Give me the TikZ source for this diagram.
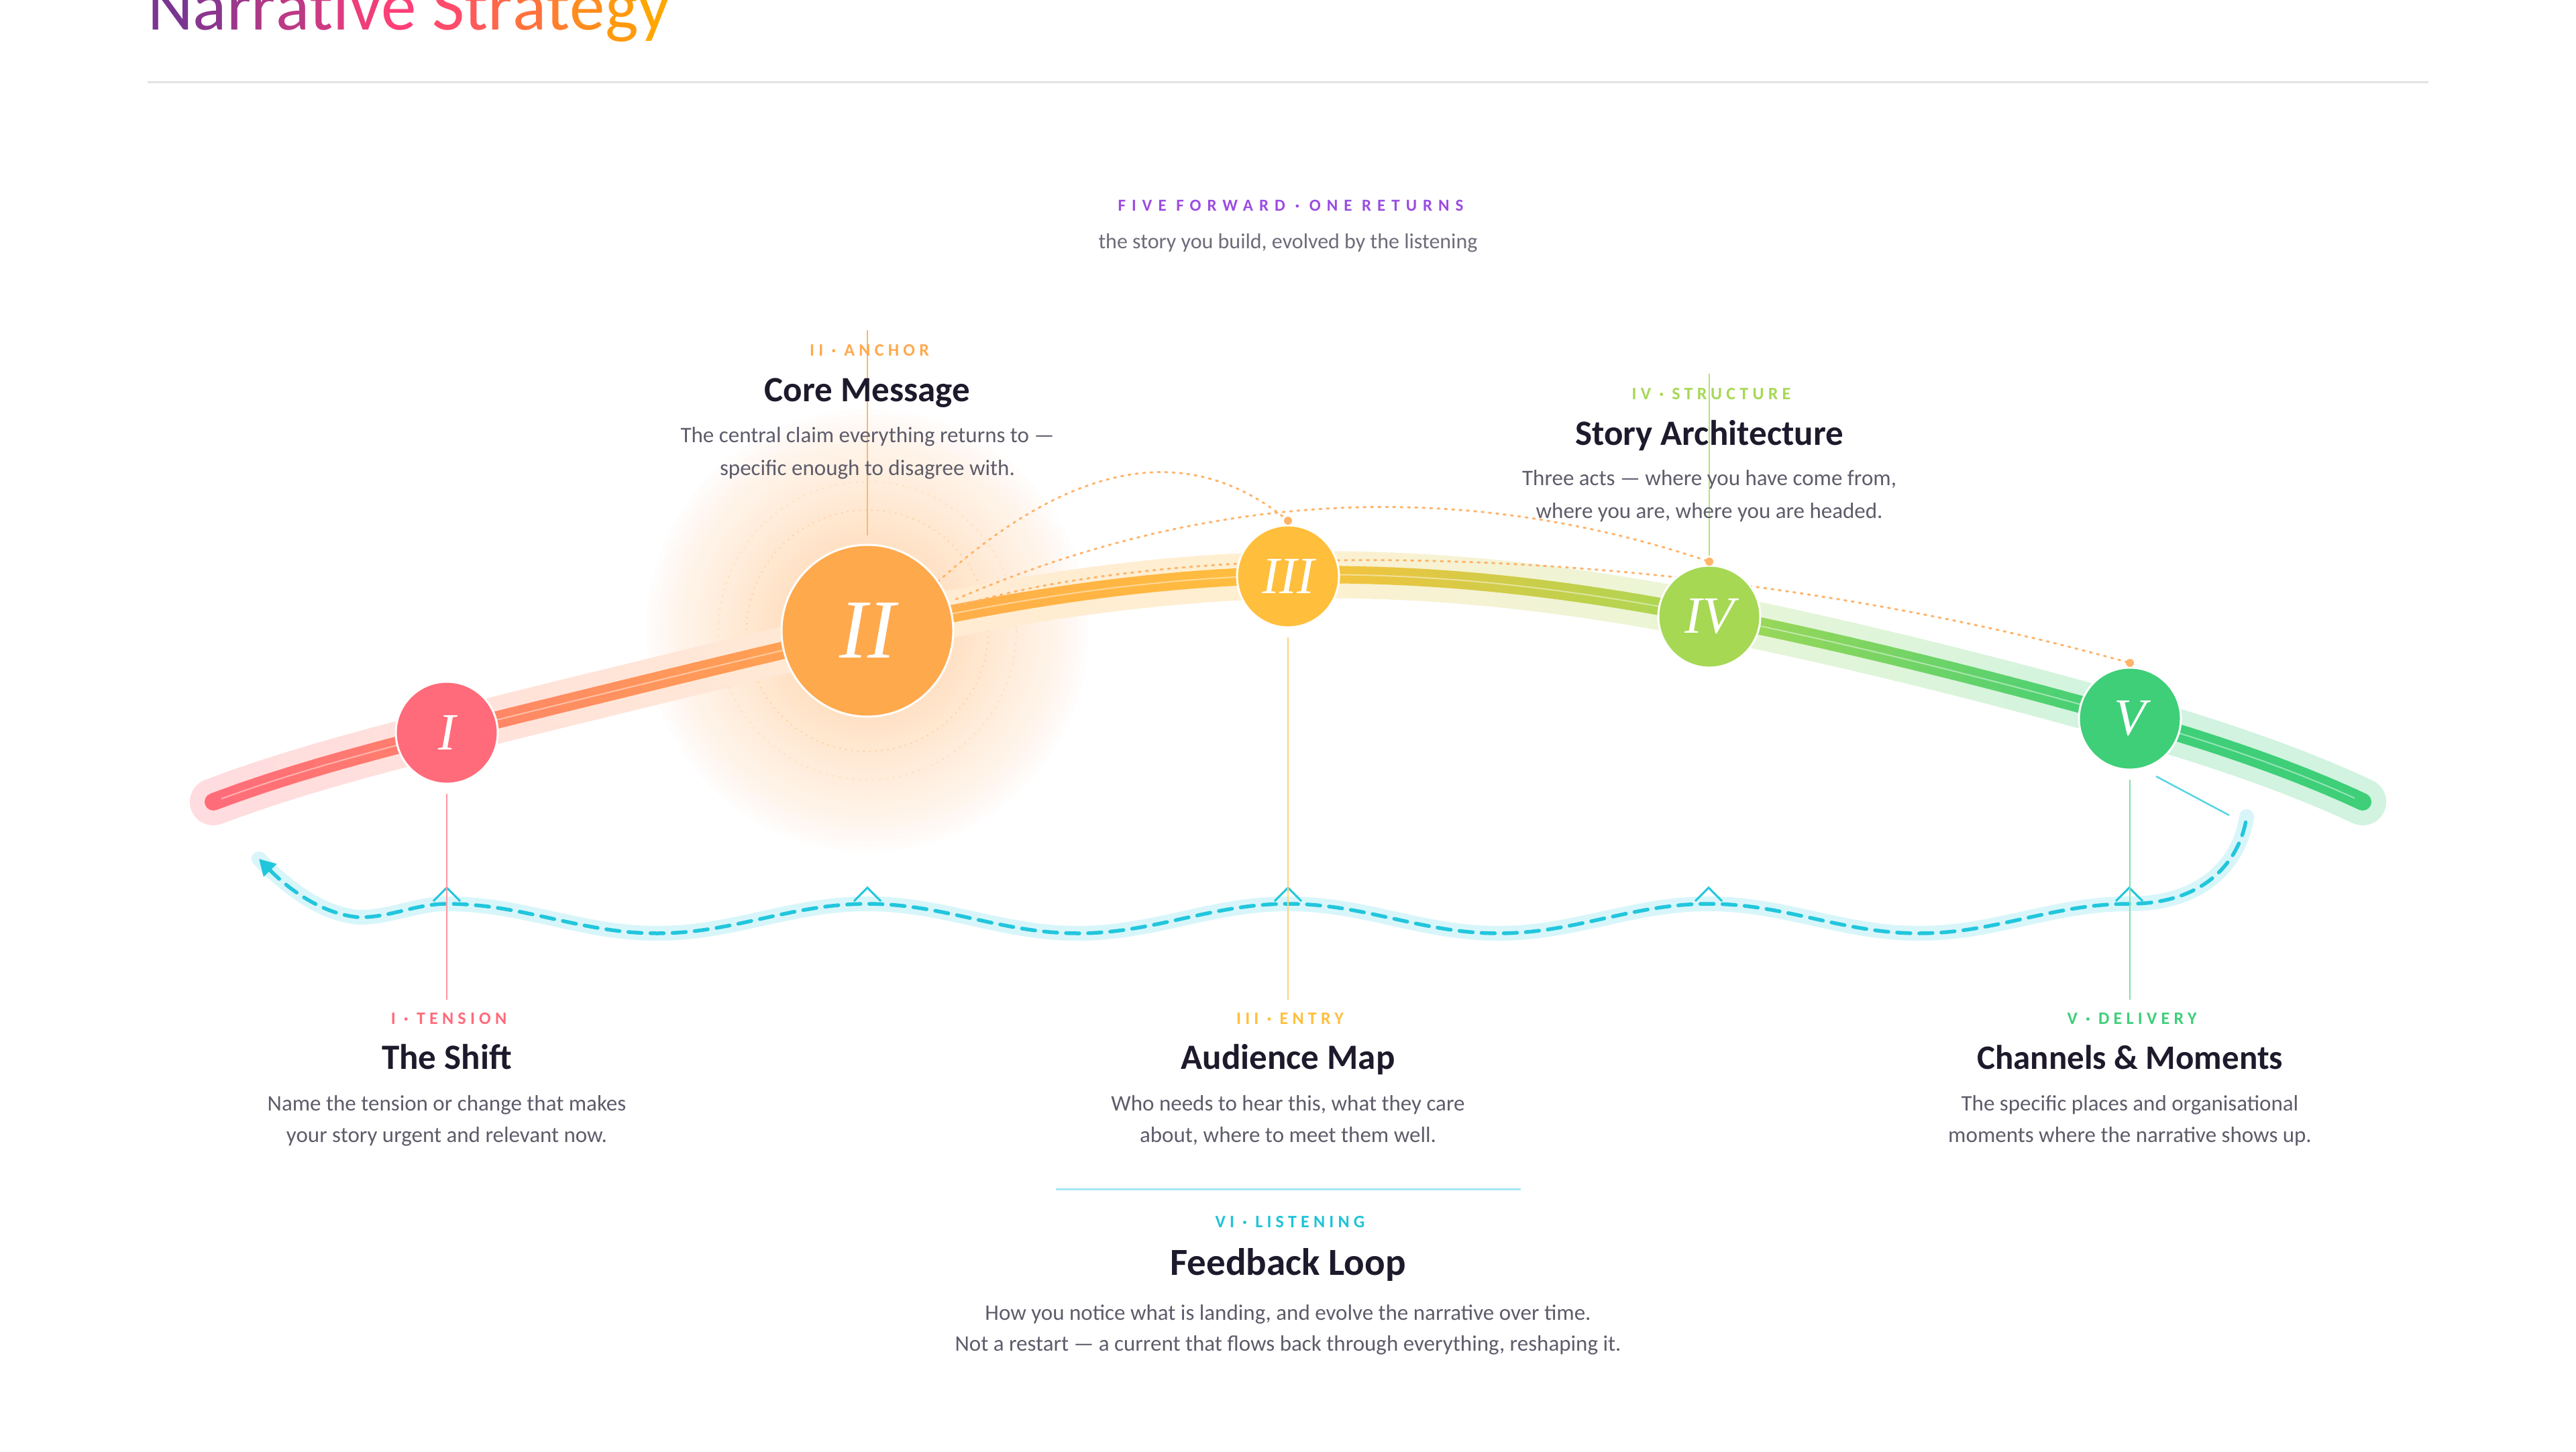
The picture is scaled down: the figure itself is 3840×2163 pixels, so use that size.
\documentclass[tikz,border=0pt]{standalone}
\usepackage{fontspec}
\setmainfont{Carlito}
\newfontfamily\numfont{Liberation Serif}
\newfontfamily\trackfont[LetterSpace=24]{Carlito}
\newfontfamily\headtrackfont[LetterSpace=36]{Carlito}
\usetikzlibrary{arrows.meta}
\definecolor{cI}{HTML}{FF6B7A}
\definecolor{cII}{HTML}{FFA94D}
\definecolor{cIII}{HTML}{FFBF3C}
\definecolor{cIV}{HTML}{A6D854}
\definecolor{cV}{HTML}{3ECF78}
\definecolor{cVI}{HTML}{1EC3D9}
\definecolor{ink}{HTML}{1E1A2C}
\definecolor{body}{HTML}{5E5C6A}
\definecolor{hdr}{HTML}{9A4CE0}
\definecolor{rulec}{HTML}{E2E2E6}
\definecolor{wavec}{HTML}{22C6DC}
\definecolor{waveh}{HTML}{D8F6FA}
\definecolor{arcc}{HTML}{FFB46A}
\definecolor{glowc}{HTML}{FFC585}
\definecolor{tp}{HTML}{7A3591}
\definecolor{tm}{HTML}{FF3F78}
\definecolor{to}{HTML}{FFA600}
\tikzset{
  lab/.style={font=\trackfont\bfseries\fontsize{26}{30}\selectfont, anchor=base, inner sep=0},
  ttl/.style={font=\bfseries\fontsize{53}{60}\selectfont, text=ink, anchor=base, inner sep=0},
  dsc/.style={font=\fontsize{33}{38}\selectfont, text=body, anchor=base, inner sep=0},
  stepc/.style={circle, draw=white, line width=3pt, inner sep=0, minimum size=152pt, text=white,
    font=\numfont\itshape\fontsize{78}{80}\selectfont},
  leader/.style={line width=2.5pt},
  arcd/.style={draw=arcc, line width=3pt, line cap=round, dash pattern=on 3pt off 8pt},
  chev/.style={draw=wavec, line width=3pt, line join=miter},
}
\begin{document}
\begin{tikzpicture}[x=1pt,y=-1pt,
  declare function={tt(\x)=(\x-1920)/1602; qq(\x)=tt(\x)*tt(\x);
    cy(\x)=857+523*qq(\x)-370.8*qq(\x)*qq(\x)+185.8*qq(\x)*qq(\x)*qq(\x)-35*tt(\x)*(1-qq(\x));}]
\useasboundingbox (0,0) rectangle (3840,2163);
\clip (0,0) rectangle (3840,2163);
\fill[white] (0,0) rectangle (3840,2163);

% title
\node[anchor=base west, inner sep=0, font=\fontsize{105}{118}\selectfont] (title) at (220,44)
 {\textcolor{tp}{N}\textcolor{tp!88!tm}{a}\textcolor{tp!75!tm}{r}\textcolor{tp!62!tm}{r}\textcolor{tp!50!tm}{a}\textcolor{tp!38!tm}{t}\textcolor{tp!25!tm}{i}\textcolor{tp!12!tm}{v}\textcolor{tm}{e} \textcolor{tm!88!to}{S}\textcolor{tm!75!to}{t}\textcolor{tm!62!to}{r}\textcolor{tm!50!to}{a}\textcolor{tm!38!to}{t}\textcolor{tm!25!to}{e}\textcolor{tm!12!to}{g}\textcolor{to}{y}};
\draw[rulec, line width=3pt] (220,122) -- (3620,122);

% header
\node[font=\headtrackfont\bfseries\fontsize{25}{30}\selectfont, text=hdr, anchor=base, inner sep=0] (hdr) at (1924,314) {FIVE FORWARD · ONE RETURNS};
\node[font=\fontsize{32}{38}\selectfont, text=body!90!white, anchor=base, inner sep=0] (sub) at (1920,370) {the story you build, evolved by the listening};

% glow around II
\coordinate (cII) at (1293,940);
\foreach \r in {330,322,...,130}{
  \fill[glowc, fill opacity=0.018] (cII) circle (\r);
}
\draw[arcd, line width=2.5pt, dash pattern=on 0pt off 9pt, opacity=.55] (cII) circle (180);
\draw[arcd, line width=2.5pt, dash pattern=on 0pt off 10pt, opacity=.35] (cII) circle (222);

% main path: halo
\foreach \xa/\xb/\ca/\cb in {318/1293/cI/cII,1293/1920/cII/cIII,1920/2547/cIII/cIV,2547/3174/cIV/cV,3174/3522/cV/cV}{
  \foreach \i in {0,...,23}{
    \pgfmathsetmacro\xs{\xa+(\xb-\xa)/24*\i}
    \pgfmathsetmacro\xe{\xa+(\xb-\xa)/24*(\i+1)}
    \pgfmathsetmacro\pc{100-100*(\i+0.5)/24}
    \draw[line width=70pt, line cap=round, color=\ca!\pc!\cb!24!white] (\xs,{cy(\xs)}) -- (\xe,{cy(\xe)});
  }}
% main path: core
\foreach \xa/\xb/\ca/\cb in {318/1293/cI/cII,1293/1920/cII/cIII,1920/2547/cIII/cIV,2547/3174/cIV/cV,3174/3522/cV/cV}{
  \foreach \i in {0,...,23}{
    \pgfmathsetmacro\xs{\xa+(\xb-\xa)/24*\i}
    \pgfmathsetmacro\xe{\xa+(\xb-\xa)/24*(\i+1)}
    \pgfmathsetmacro\pc{100-100*(\i+0.5)/24}
    \draw[line width=26pt, line cap=round, color=\ca!\pc!\cb] (\xs,{cy(\xs)}) -- (\xe,{cy(\xe)});
  }}
\draw[white, opacity=.45, line width=2pt] plot[domain=330:3510, samples=120] (\x,{cy(\x)});

% dependency arcs from II
\coordinate (a1s) at (1398,867);
\coordinate (a2s) at (1425,893);
\coordinate (a3s) at (1417,907);
\coordinate (dIII) at (1920,776);
\coordinate (dIV) at (2548,837);
\coordinate (dV) at (3175,988);
\draw[arcd] (a1s) .. controls (1599,686) and (1773,655) .. (dIII);
\draw[arcd] (a2s) .. controls (1802,731) and (2176,712) .. (dIV);
\draw[arcd] (a3s) .. controls (1750,800) and (2500,800) .. (dV);

% feedback wave
\coordinate (wA) at (386,1280);
\coordinate (wB) at (3349,1217);
\draw[line width=22pt, waveh, line cap=round] (wA) .. controls (430,1325) and (480,1362) .. (534,1367)
  .. controls (580,1368) and (620,1347) .. (666,1347)
  -- plot[domain=666:3174, samples=241] (\x,{1369-22*cos((\x-666)/627*360)})
  .. controls (3290,1347) and (3340,1280) .. (wB);
\draw[line width=5.5pt, wavec, line cap=round, dash pattern=on 20pt off 13pt, {Triangle[width=26pt,length=24pt]}-]
  (wA) .. controls (430,1325) and (480,1362) .. (534,1367)
  .. controls (580,1368) and (620,1347) .. (666,1347)
  -- plot[domain=666:3174, samples=241] (\x,{1369-22*cos((\x-666)/627*360)})
  .. controls (3290,1347) and (3340,1280) .. (wB);
\foreach \cx in {666,1293,1920,2547,3174}{
  \draw[chev] (\cx-20,1343) -- (\cx,1323) -- (\cx+20,1343);
}

% circles
\node[stepc, fill=cI] (nI) at (666,1092) {I};
\node[stepc, fill=cII, minimum size=256pt, font=\numfont\itshape\fontsize{125}{130}\selectfont] (nII) at (cII) {II};
\node[stepc, fill=cIII] (nIII) at (1920,859) {III};
\node[stepc, fill=cIV] (nIV) at (2548,919) {IV};
\node[stepc, fill=cV] (nV) at (3175,1071) {V};
\fill[arcc] (dIII) circle (6);
\fill[arcc] (dIV) circle (6);
\fill[arcc] (dV) circle (6);

% V to loop connector
\coordinate (vout) at (3214,1157);
\coordinate (loopin) at (3323,1215);
\draw[wavec!75!white, line width=2.5pt] (vout) -- (loopin);

% leader lines
\coordinate (tII) at (1293,492);  \coordinate (bII) at (1293,798);
\coordinate (tIV) at (2548,557);  \coordinate (bIV) at (2548,828);
\coordinate (tI) at (666,1183);   \coordinate (bI) at (666,1490);
\coordinate (tIII) at (1920,950); \coordinate (bIII) at (1920,1490);
\coordinate (tV) at (3175,1162);  \coordinate (bV) at (3175,1490);
\draw[leader, cII!85!white] (tII) -- (bII);
\draw[leader, cIV!80!white] (tIV) -- (bIV);
\draw[leader, cI!70!white] (tI) -- (bI);
\draw[leader, cIII!70!white] (tIII) -- (bIII);
\draw[leader, cV!65!white] (tV) -- (bV);

% top texts
\node[lab, text=cII] (lII) at (1296,530) {II · ANCHOR};
\node[ttl] (hII) at (1293,598) {Core Message};
\node[dsc] (dII1) at (1293,659) {The central claim everything returns to —};
\node[dsc] (dII2) at (1293,708) {specific enough to disagree with.};

\node[lab, text=cIV] (lIV) at (2551,595) {IV · STRUCTURE};
\node[ttl] (hIV) at (2548,663) {Story Architecture};
\node[dsc] (dIV1) at (2548,723) {Three acts — where you have come from,};
\node[dsc] (dIV2) at (2548,772) {where you are, where you are headed.};

% bottom texts
\node[lab, text=cI] (lI) at (669,1526) {I · TENSION};
\node[ttl] (hI) at (666,1593) {The Shift};
\node[dsc] (dI1) at (666,1655) {Name the tension or change that makes};
\node[dsc] (dI2) at (666,1702) {your story urgent and relevant now.};

\node[lab, text=cIII] (lIII) at (1923,1526) {III · ENTRY};
\node[ttl] (hIII) at (1920,1593) {Audience Map};
\node[dsc] (dIII1) at (1920,1655) {Who needs to hear this, what they care};
\node[dsc] (dIII2) at (1920,1702) {about, where to meet them well.};

\node[lab, text=cV] (lV) at (3178,1526) {V · DELIVERY};
\node[ttl, font=\bfseries\fontsize{51}{60}\selectfont] (hV) at (3175,1593) {Channels \& Moments};
\node[dsc] (dV1) at (3175,1655) {The specific places and organisational};
\node[dsc] (dV2) at (3175,1702) {moments where the narrative shows up.};

% feedback block
\draw[cVI!40!white, line width=3pt] (1574,1772) -- (2267,1772);
\node[lab, text=cVI] (lVI) at (1923,1829) {VI · LISTENING};
\node[ttl, font=\bfseries\fontsize{57}{64}\selectfont] (hVI) at (1920,1900) {Feedback Loop};
\node[dsc] (dVI1) at (1920,1967) {How you notice what is landing, and evolve the narrative over time.};
\node[dsc] (dVI2) at (1920,2013) {Not a restart — a current that flows back through everything, reshaping it.};
\end{tikzpicture}
\end{document}
